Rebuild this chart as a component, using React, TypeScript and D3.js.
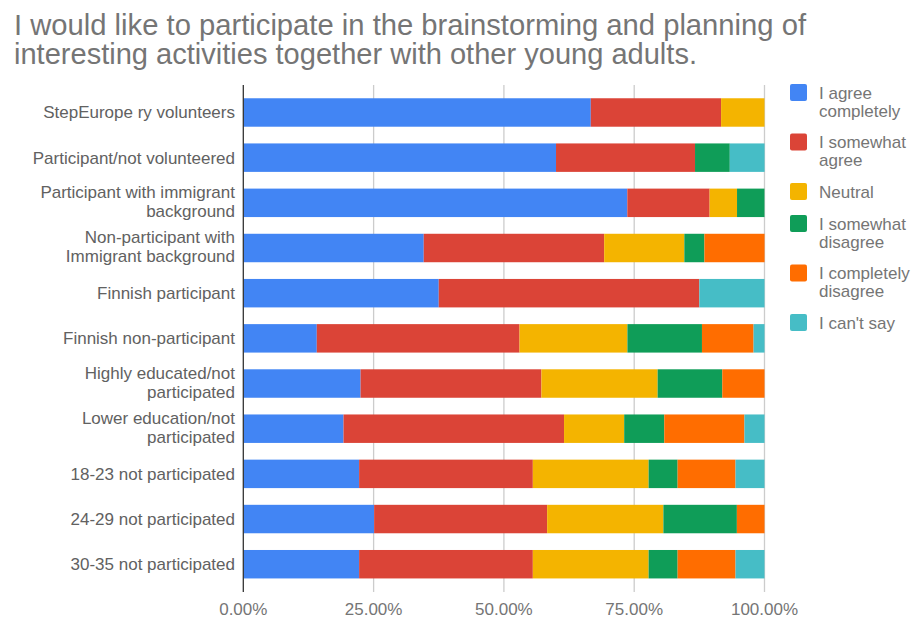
import React from "react";
import * as d3 from "d3";

const titleLines = [
  "I would like to participate in the brainstorming and planning of",
  "interesting activities together with other young adults.",
];

const categories = [
  "StepEurope ry volunteers",
  "Participant/not volunteered",
  "Participant with immigrant\nbackground",
  "Non-participant with\nImmigrant background",
  "Finnish participant",
  "Finnish non-participant",
  "Highly educated/not\nparticipated",
  "Lower education/not\nparticipated",
  "18-23 not participated",
  "24-29 not participated",
  "30-35 not participated",
];

const seriesNames = [
  "I agree completely",
  "I somewhat agree",
  "Neutral",
  "I somewhat disagree",
  "I completely disagree",
  "I can't say",
];

const legendLabels = [
  ["I agree", "completely"],
  ["I somewhat", "agree"],
  ["Neutral"],
  ["I somewhat", "disagree"],
  ["I completely", "disagree"],
  ["I can't say"],
];

const agreeCompletely = [66.67, 60.0, 73.68, 34.62, 37.5, 14.1, 22.5, 19.23, 22.22, 25.1, 22.22];
const somewhatAgree = [25.0, 26.67, 15.79, 34.62, 50.0, 38.9, 34.7, 42.31, 33.33, 33.2, 33.33];
const neutral = [8.33, 0, 5.26, 15.38, 0, 20.7, 22.3, 11.54, 22.22, 22.3, 22.22];
const somewhatDisagree = [0, 6.67, 5.26, 3.85, 0, 14.3, 12.4, 7.69, 5.56, 14.1, 5.56];
const completelyDisagree = [0, 0, 0, 11.54, 0, 9.9, 8.1, 15.38, 11.11, 5.3, 11.11];
const cantSay = [0, 6.67, 0, 0, 12.5, 2.1, 0, 3.85, 5.56, 0, 5.56];

const xTicks = [0, 25, 50, 75, 100];

const colors = ["#4285F4", "#DB4437", "#F4B400", "#0F9D58", "#FF6D00", "#46BDC6"];

const W = 914;
const H = 619;
const FONT = "'Liberation Sans', Arial, sans-serif";

export default function App() {
  const seriesValues = [agreeCompletely, somewhatAgree, neutral, somewhatDisagree, completelyDisagree, cantSay];
  const table = categories.map((c, i) => {
    const row: Record<string, any> = { cat: c };
    seriesNames.forEach((s, j) => (row[s] = seriesValues[j][i]));
    return row;
  });
  const stacked = d3.stack<any>().keys(seriesNames)(table);

  const x = d3.scaleLinear().domain([0, 100]).range([243.3, 764.5]);
  const y = d3.scaleBand<string>().domain(categories).range([89.9, 586.8]).paddingInner(0.37).paddingOuter(0.185);

  const gridTop = 85;
  const gridBottom = 592;

  // legend layout
  const legendY: number[] = [];
  let cy = 92.5;
  legendLabels.forEach((lines) => {
    legendY.push(cy);
    cy += lines.length === 2 ? 49.5 : 32;
  });

  return (
    <div style={{ position: "absolute", left: 0, top: 0 }}>
      <svg width={W} height={H} style={{ display: "block", fontFamily: FONT }}>
        <rect width={W} height={H} fill="#ffffff" />
        {/* title */}
        <text x={14} y={35} fontSize={29} fill="#757575" textLength={792} lengthAdjust="spacingAndGlyphs">
          {titleLines[0]}
        </text>
        <text x={14} y={64} fontSize={29} fill="#757575" textLength={683} lengthAdjust="spacingAndGlyphs">
          {titleLines[1]}
        </text>

        {/* gridlines */}
        {xTicks.slice(1).map((t) => (
          <line key={t} x1={x(t)} x2={x(t)} y1={gridTop} y2={gridBottom} stroke="#cccccc" strokeWidth={1.3} />
        ))}

        {/* bars */}
        {stacked.map((s, si) => (
          <g key={s.key} fill={colors[si]}>
            {s.map((d, i) =>
              d[1] - d[0] > 0 ? (
                <rect
                  key={i}
                  x={x(d[0])}
                  y={y(categories[i])!}
                  width={x(d[1]) - x(d[0])}
                  height={y.bandwidth()}
                />
              ) : null
            )}
          </g>
        ))}

        {/* baseline */}
        <line x1={x(0)} x2={x(0)} y1={gridTop} y2={gridBottom} stroke="#333333" strokeWidth={1.3} />

        {/* category labels */}
        {categories.map((c) => {
          const lines = c.split("\n");
          const center = y(c)! + y.bandwidth() / 2;
          return (
            <text key={c} textAnchor="end" fontSize={17} fill="#616161">
              {lines.map((ln, li) => {
                const by = lines.length === 1 ? center + 6 : center - 5 + li * 19;
                return (
                  <tspan key={li} x={235} y={by}>
                    {ln}
                  </tspan>
                );
              })}
            </text>
          );
        })}

        {/* x tick labels */}
        {xTicks.map((t) => (
          <text key={t} x={x(t)} y={615} textAnchor="middle" fontSize={17} fill="#757575">
            {t.toFixed(2) + "%"}
          </text>
        ))}

        {/* legend */}
        {legendLabels.map((lines, i) => (
          <g key={i}>
            <rect x={790} y={legendY[i] - 8.5} width={17} height={17} rx={2} fill={colors[i]} />
            <text fontSize={17} fill="#757575">
              {lines.map((ln, li) => (
                <tspan key={li} x={819} y={legendY[i] + 6 + li * 18}>
                  {ln}
                </tspan>
              ))}
            </text>
          </g>
        ))}
      </svg>
    </div>
  );
}
